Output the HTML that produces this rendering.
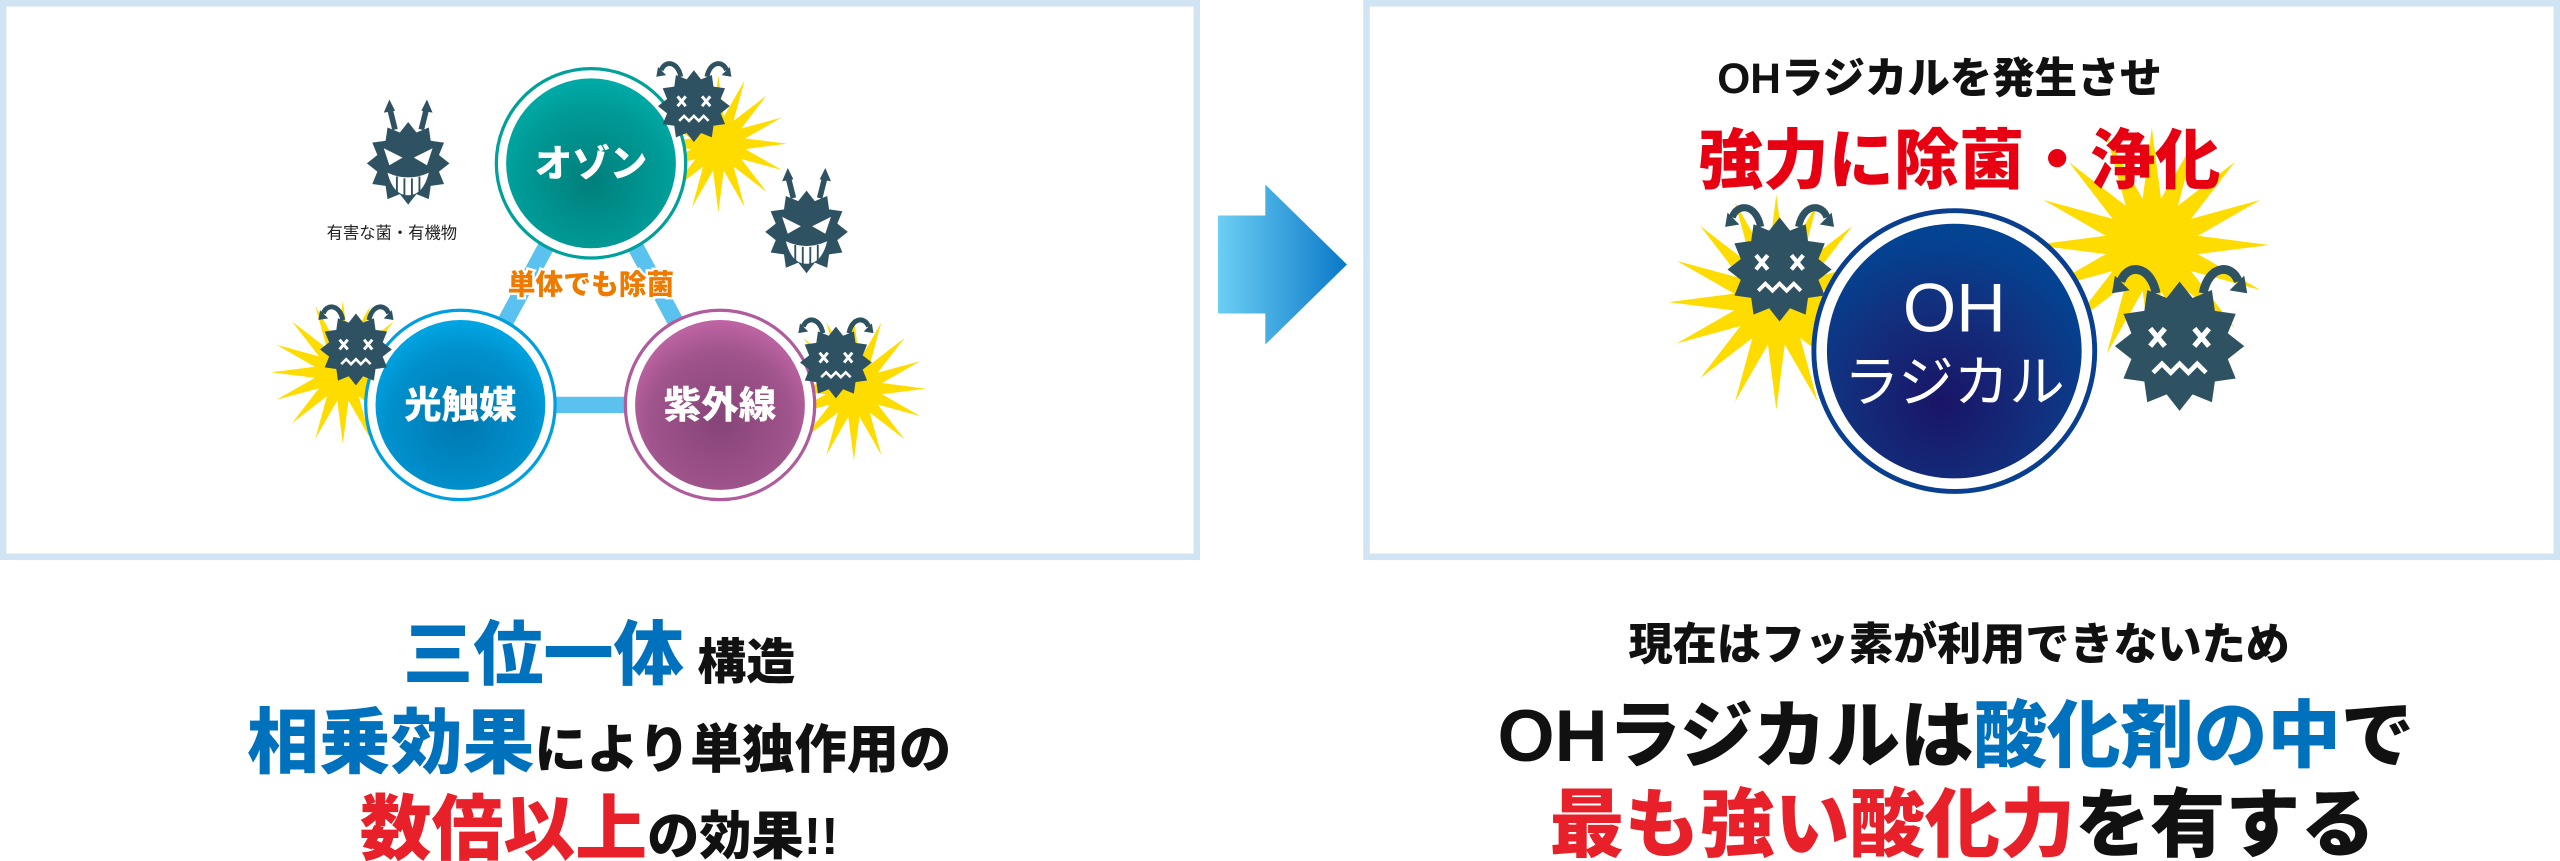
<!DOCTYPE html>
<html><head><meta charset="utf-8"><style>
html,body{margin:0;padding:0;background:#fff;}
svg{display:block;}
text{font-family:"Liberation Sans","Noto Sans CJK JP",sans-serif;font-weight:900;}
</style></head><body>
<svg width="2560" height="861" viewBox="0 0 1568 527.3" xmlns="http://www.w3.org/2000/svg">
<defs>
<radialGradient id="gT" cx="0.5" cy="0.6" r="0.6"><stop offset="0" stop-color="#007f7c"/><stop offset="0.7" stop-color="#009a96"/><stop offset="1" stop-color="#00aba6"/></radialGradient>
<radialGradient id="gB" cx="0.5" cy="0.6" r="0.6"><stop offset="0" stop-color="#0078b0"/><stop offset="0.7" stop-color="#0090cc"/><stop offset="1" stop-color="#00a6e4"/></radialGradient>
<radialGradient id="gP" cx="0.5" cy="0.6" r="0.6"><stop offset="0" stop-color="#864478"/><stop offset="0.7" stop-color="#a0548c"/><stop offset="1" stop-color="#c065a4"/></radialGradient>
<radialGradient id="gN" cx="0.45" cy="0.7" r="0.65"><stop offset="0" stop-color="#1a1466"/><stop offset="0.6" stop-color="#12307e"/><stop offset="1" stop-color="#034392"/></radialGradient>
<linearGradient id="gA" x1="0" x2="1" y1="0" y2="0"><stop offset="0" stop-color="#6ccff4"/><stop offset="1" stop-color="#0a78c8"/></linearGradient>
<polygon id="burst" fill="#ffdc00" points="1,0 .392,.078 .924,.383 .333,.222 .707,.707 .222,.333 .383,.924 .078,.392 0,1 -.078,.392 -.383,.924 -.222,.333 -.707,.707 -.333,.222 -.924,.383 -.392,.078 -1,0 -.392,-.078 -.924,-.383 -.333,-.222 -.707,-.707 -.222,-.333 -.383,-.924 -.078,-.392 0,-1 .078,-.392 .383,-.924 .222,-.333 .707,-.707 .333,-.222 .924,-.383 .392,-.078"/>
<g id="body">
<polygon fill="#2f5262" points="22,0 16.4,4.4 19.1,11 12,12 11,19.1 4.4,16.4 0,22 -4.4,16.4 -11,19.1 -12,12 -19.1,11 -16.4,4.4 -22,0 -16.4,-4.4 -19.1,-11 -12,-12 -11,-19.1 -4.4,-16.4 0,-22 4.4,-16.4 11,-19.1 12,-12 19.1,-11 16.4,-4.4"/>
</g>
<g id="dead">
<path d="M-8,-18 C-10,-28 -18,-28 -20,-22 M8,-18 C10,-28 18,-28 20,-22" stroke="#2f5262" stroke-width="3" fill="none"/>
<polygon fill="#2f5262" points="-22,-24 -17,-19 -23,-18"/>
<polygon fill="#2f5262" points="22,-24 17,-19 23,-18"/>
<use href="#body"/>
<path d="M-10,-6 l5,6 M-5,-6 l-5,6 M5,-6 l5,6 M10,-6 l-5,6" stroke="#fff" stroke-width="1.8"/>
<path d="M-9,9 l3,-3 l3,3 l3,-3 l3,3 l3,-3 l3,3" stroke="#fff" stroke-width="1.6" fill="none"/>
</g>
<g id="angry">
<path d="M-7,-18 L-10,-30 M7,-18 L10,-30" stroke="#2f5262" stroke-width="3"/>
<polygon fill="#2f5262" points="-10,-34 -13,-27 -7,-28"/>
<polygon fill="#2f5262" points="10,-34 13,-27 7,-28"/>
<use href="#body"/>
<path d="M-13,-8 L-3,-3 L-10,1 Z M13,-8 L3,-3 L10,1 Z" fill="#fff"/>
<path d="M-11,5 Q0,10 11,5 Q8,17 0,17 Q-8,17 -11,5 Z" fill="#fff"/>
<path d="M-6,7 v9 M-2,8 v9 M2,8 v9 M6,7 v9" stroke="#2f5262" stroke-width="1"/>
</g>
</defs>

<rect x="2" y="2" width="731" height="339" fill="#fff" stroke="#d0e4f4" stroke-width="4"/>
<rect x="837" y="2" width="729" height="339" fill="#fff" stroke="#d0e4f4" stroke-width="4"/>

<polygon points="746,132 775,132 775,113 825,162 775,211 775,192 746,192" fill="url(#gA)"/>

<path d="M362,100 L282,248 L441,248 Z" fill="none" stroke="#5bc2ef" stroke-width="10" stroke-linejoin="round"/>
<use href="#burst" transform="translate(440,88) scale(42)"/>
<use href="#burst" transform="translate(210,228) scale(44)"/>
<use href="#burst" transform="translate(523,238) scale(44)"/>
<circle cx="362" cy="100" r="58" fill="#fff" stroke="#00a19a" stroke-width="2"/>
<circle cx="362" cy="100" r="52" fill="url(#gT)"/>
<circle cx="282" cy="248" r="58" fill="#fff" stroke="#00a0e0" stroke-width="2"/>
<circle cx="282" cy="248" r="52" fill="url(#gB)"/>
<circle cx="441" cy="248" r="58" fill="#fff" stroke="#b05c9c" stroke-width="2"/>
<circle cx="441" cy="248" r="52" fill="url(#gP)"/>
<text x="362" y="108" font-size="23" fill="#fff" text-anchor="middle">オゾン</text>
<text x="282" y="256" font-size="23" fill="#fff" text-anchor="middle">光触媒</text>
<text x="441" y="256" font-size="23" fill="#fff" text-anchor="middle">紫外線</text>
<text x="362" y="180" font-size="17" fill="#ee7a00" text-anchor="middle" stroke="#fff" stroke-width="3" paint-order="stroke">単体でも除菌</text>
<use href="#dead" transform="translate(425,65)"/>
<use href="#dead" transform="translate(218,214)"/>
<use href="#dead" transform="translate(512,222)"/>
<use href="#angry" transform="translate(250,100) scale(1.15)"/>
<use href="#angry" transform="translate(494,142) scale(1.15)"/>
<text x="240" y="146" font-size="10" fill="#222" text-anchor="middle" style="font-weight:400">有害な菌・有機物</text>

<text x="1188" y="57" font-size="26" fill="#111" text-anchor="middle">OHラジカルを発生させ</text>
<use href="#burst" transform="translate(1088,185) scale(66)"/>
<use href="#burst" transform="translate(1318,150) scale(72)"/>
<circle cx="1197" cy="215" r="86" fill="#fff" stroke="#0a3f8f" stroke-width="3"/>
<circle cx="1197" cy="215" r="78" fill="url(#gN)"/>
<text x="1197" y="203" font-size="42" fill="#fff" text-anchor="middle" style="font-weight:400">OH</text>
<text x="1197" y="246" font-size="34" fill="#fff" text-anchor="middle" style="font-weight:400">ラジカル</text>
<text x="1200" y="112" font-size="40" fill="#e60012" text-anchor="middle">強力に除菌・浄化</text>
<use href="#dead" transform="translate(1090,165) scale(1.45)"/>
<use href="#dead" transform="translate(1335,212) scale(1.8)"/>

<text x="367" y="416" text-anchor="middle" fill="#111"><tspan font-size="43" fill="#0071bc">三位一体</tspan><tspan font-size="30"> 構造</tspan></text>
<text x="367" y="470" text-anchor="middle" fill="#111"><tspan font-size="44" fill="#0071bc">相乗効果</tspan><tspan font-size="32">により単独作用の</tspan></text>
<text x="367" y="523" text-anchor="middle" fill="#111"><tspan font-size="44" fill="#e8202a">数倍以上</tspan><tspan font-size="32">の効果!!</tspan></text>

<text x="1200" y="404" font-size="27" text-anchor="middle" fill="#111">現在はフッ素が利用できないため</text>
<text x="1198" y="466" font-size="45" text-anchor="middle" fill="#111">OHラジカルは<tspan fill="#0071bc">酸化剤の中</tspan>で</text>
<text x="1202" y="521" font-size="46" text-anchor="middle" fill="#111"><tspan fill="#e8202a">最も強い酸化力</tspan>を有する</text>
</svg>
</body></html>
